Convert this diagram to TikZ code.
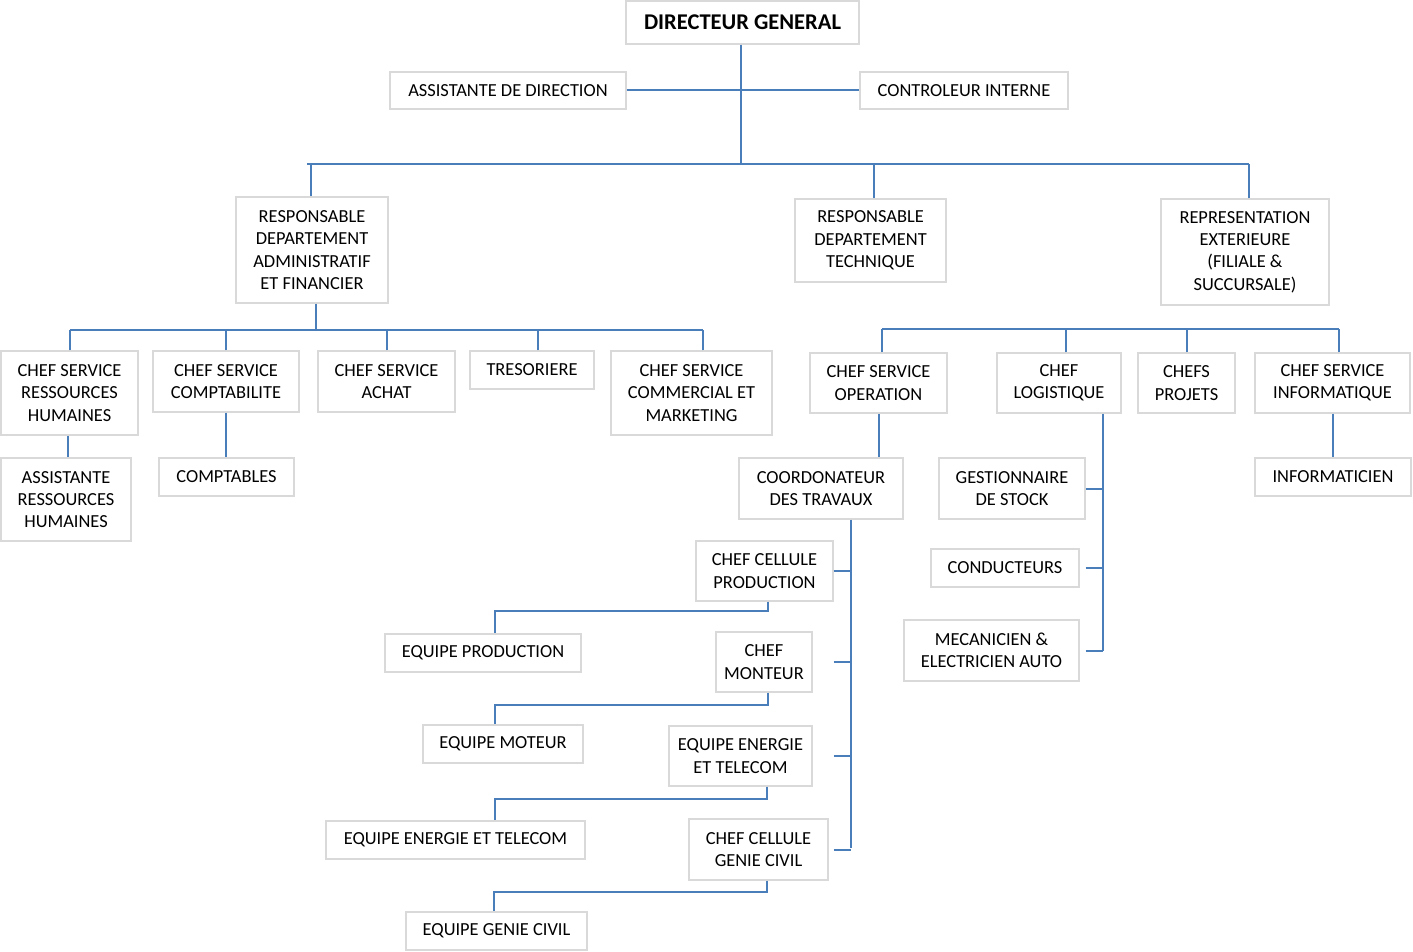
\documentclass[tikz,border=0pt]{standalone}
\usepackage{fontspec}
\setmainfont{Carlito}
\usepackage{xcolor}
\usepackage{tikz}

\definecolor{linkblue}{HTML}{4A7EBB}
\definecolor{boxgray}{HTML}{D9D9D9}

\begin{document}
\begin{tikzpicture}[
    x=1pt, y=-1pt,
    post/.style={rectangle, draw=boxgray, line width=1.2pt, inner sep=0pt, align=center, font=\fontsize{18.4}{22.4}\selectfont},
    head/.style={post, font=\bfseries\fontsize{22.5}{26}\selectfont},
    link/.style={draw=linkblue, line width=2pt}
]
\useasboundingbox (0,0) rectangle (1413,952);

% direction
\node[head, minimum width=233, minimum height=43] (dg) at (742.5, 22.5) {DIRECTEUR GENERAL};
\node[post, minimum width=236, minimum height=37] (asdir) at (508, 90.5) {ASSISTANTE DE DIRECTION};
\node[post, minimum width=208, minimum height=37] (ctrl) at (964, 90.5) {CONTROLEUR INTERNE};

% departements
\node[post, minimum width=152, minimum height=106] (daf) at (312, 250) {RESPONSABLE\\DEPARTEMENT\\ADMINISTRATIF\\ET FINANCIER};
\node[post, minimum width=151, minimum height=83] (dt) at (870.5, 240.5) {RESPONSABLE\\DEPARTEMENT\\TECHNIQUE};
\node[post, minimum width=168, minimum height=106] (rep) at (1245, 252) {REPRESENTATION\\EXTERIEURE\\(FILIALE \&\\SUCCURSALE)};

% services administratifs
\node[post, minimum width=137, minimum height=84] (csrh) at (69.5, 393) {CHEF SERVICE\\RESSOURCES\\HUMAINES};
\node[post, minimum width=146, minimum height=61] (cscpt) at (226, 381.5) {CHEF SERVICE\\COMPTABILITE};
\node[post, minimum width=137, minimum height=61] (csach) at (386.5, 381.5) {CHEF SERVICE\\ACHAT};
\node[post, minimum width=124, minimum height=38] (treso) at (532, 370) {TRESORIERE};
\node[post, minimum width=161, minimum height=84] (cscom) at (691.5, 393) {CHEF SERVICE\\COMMERCIAL ET\\MARKETING};
\node[post, minimum width=130, minimum height=83] (asrh) at (66, 499.5) {ASSISTANTE\\RESSOURCES\\HUMAINES};
\node[post, minimum width=135, minimum height=38] (cpt) at (226.5, 477) {COMPTABLES};

% services techniques
\node[post, minimum width=137, minimum height=60] (csop) at (878.5, 383) {CHEF SERVICE\\OPERATION};
\node[post, minimum width=124, minimum height=60] (clog) at (1059, 383) {CHEF\\LOGISTIQUE};
\node[post, minimum width=97, minimum height=60] (cproj) at (1186.5, 383) {CHEFS\\PROJETS};
\node[post, minimum width=155, minimum height=60] (csinf) at (1332.5, 383) {CHEF SERVICE\\INFORMATIQUE};
\node[post, minimum width=156, minimum height=38] (info) at (1333, 477) {INFORMATICIEN};
\node[post, minimum width=164, minimum height=61] (coord) at (821, 488.5) {COORDONATEUR\\DES TRAVAUX};
\node[post, minimum width=146, minimum height=61] (gest) at (1012, 488.5) {GESTIONNAIRE\\DE STOCK};
\node[post, minimum width=148, minimum height=38] (cond) at (1005, 568) {CONDUCTEURS};
\node[post, minimum width=175, minimum height=61] (meca) at (991.5, 650.5) {MECANICIEN \&\\ELECTRICIEN AUTO};

% cellules et equipes
\node[post, minimum width=137, minimum height=60] (cprod) at (764.5, 571) {CHEF CELLULE\\PRODUCTION};
\node[post, minimum width=196, minimum height=38] (eprod) at (483, 653) {EQUIPE PRODUCTION};
\node[post, minimum width=96, minimum height=60] (cmont) at (764, 662) {CHEF\\MONTEUR};
\node[post, minimum width=160, minimum height=38] (emot) at (503, 744) {EQUIPE MOTEUR};
\node[post, minimum width=143, minimum height=60] (cener) at (740.5, 756) {EQUIPE ENERGIE\\ET TELECOM};
\node[post, minimum width=259, minimum height=38] (eener) at (455.5, 840) {EQUIPE ENERGIE ET TELECOM};
\node[post, minimum width=139, minimum height=61] (cgc) at (758.5, 849.5) {CHEF CELLULE\\GENIE CIVIL};
\node[post, minimum width=181, minimum height=38] (egc) at (496.5, 931) {EQUIPE GENIE CIVIL};

% liaisons direction
\coordinate (barL) at (307, 164);
\coordinate (barR) at (1249, 164);
\draw[link] (asdir) -- (ctrl);
\draw[link] ([xshift=-1.5pt]dg.south) -- ([xshift=-1.5pt]dg.south |- barL);
\draw[link] (barL) -- (barR);
\draw[link] ([xshift=-1pt]daf.north) -- ([xshift=-1pt]daf.north |- barL);
\draw[link] ([xshift=3.5pt]dt.north) -- ([xshift=3.5pt]dt.north |- barL);
\draw[link] ([xshift=4pt]rep.north) -- (barR);

% liaisons administratif
\draw[link] ([xshift=4pt]daf.south) -- ++(0,26) coordinate (dafbar);
\draw[link] (csrh.north |- dafbar) -- ([xshift=11.5pt]cscom.north |- dafbar);
\foreach \n in {csrh, cscpt, csach}
  \draw[link] (\n.north) -- (\n.north |- dafbar);
\draw[link] ([xshift=6pt]treso.north) -- ([xshift=6pt]treso.north |- dafbar);
\draw[link] ([xshift=11.5pt]cscom.north) -- ([xshift=11.5pt]cscom.north |- dafbar);
\draw[link] ([xshift=-1.5pt]csrh.south) -- ([xshift=-1.5pt]csrh.south |- asrh.north);
\draw[link] (cscpt.south) -- (cscpt.south |- cpt.north);

% liaisons technique
\coordinate (techL) at (882, 329);
\coordinate (techR) at (1339, 329);
\draw[link] (techL) -- (techR);
\draw[link] ([xshift=3.5pt]csop.north) -- (techL);
\draw[link] ([xshift=7pt]clog.north) -- ([xshift=7pt]clog.north |- techL);
\draw[link] (cproj.north) -- (cproj.north |- techL);
\draw[link] ([xshift=6.5pt]csinf.north) -- (techR);
\draw[link] (csop.south) -- (csop.south |- coord.north);
\draw[link] (csinf.south) -- (csinf.south |- info.north);

% logistique
\coordinate (logx) at ([xshift=44pt]clog.south);
\draw[link] (logx) -- (logx |- meca.east);
\draw[link] (gest.east) -- (gest.east -| logx);
\draw[link] ([xshift=6pt]cond.east) -- (cond.east -| logx);
\draw[link] ([xshift=6pt]meca.east) -- (meca.east -| logx);

% travaux
\coordinate (trx) at ([xshift=30pt]coord.south);
\draw[link] (trx) -- ++(0,328);
\draw[link] (cprod.east) -- (cprod.east -| trx);
\draw[link] ([xshift=21pt]cmont.east) -- (cmont.east -| trx);
\draw[link] ([xshift=21pt]cener.east) -- (cener.east -| trx);
\draw[link] ([xshift=5pt]cgc.east) -- (cgc.east -| trx);

% equipes
\draw[link] ([xshift=3.5pt]cprod.south) -- ++(0,9) -| ([xshift=12pt]eprod.north);
\draw[link] ([xshift=4pt]cmont.south) -- ++(0,12) -| ([xshift=-8pt]emot.north);
\draw[link] ([xshift=26.5pt]cener.south) -- ++(0,12) -| ([xshift=39.5pt]eener.north);
\draw[link] ([xshift=8.5pt]cgc.south) -- ++(0,11) -| ([xshift=-2.5pt]egc.north);

\end{tikzpicture}
\end{document}
